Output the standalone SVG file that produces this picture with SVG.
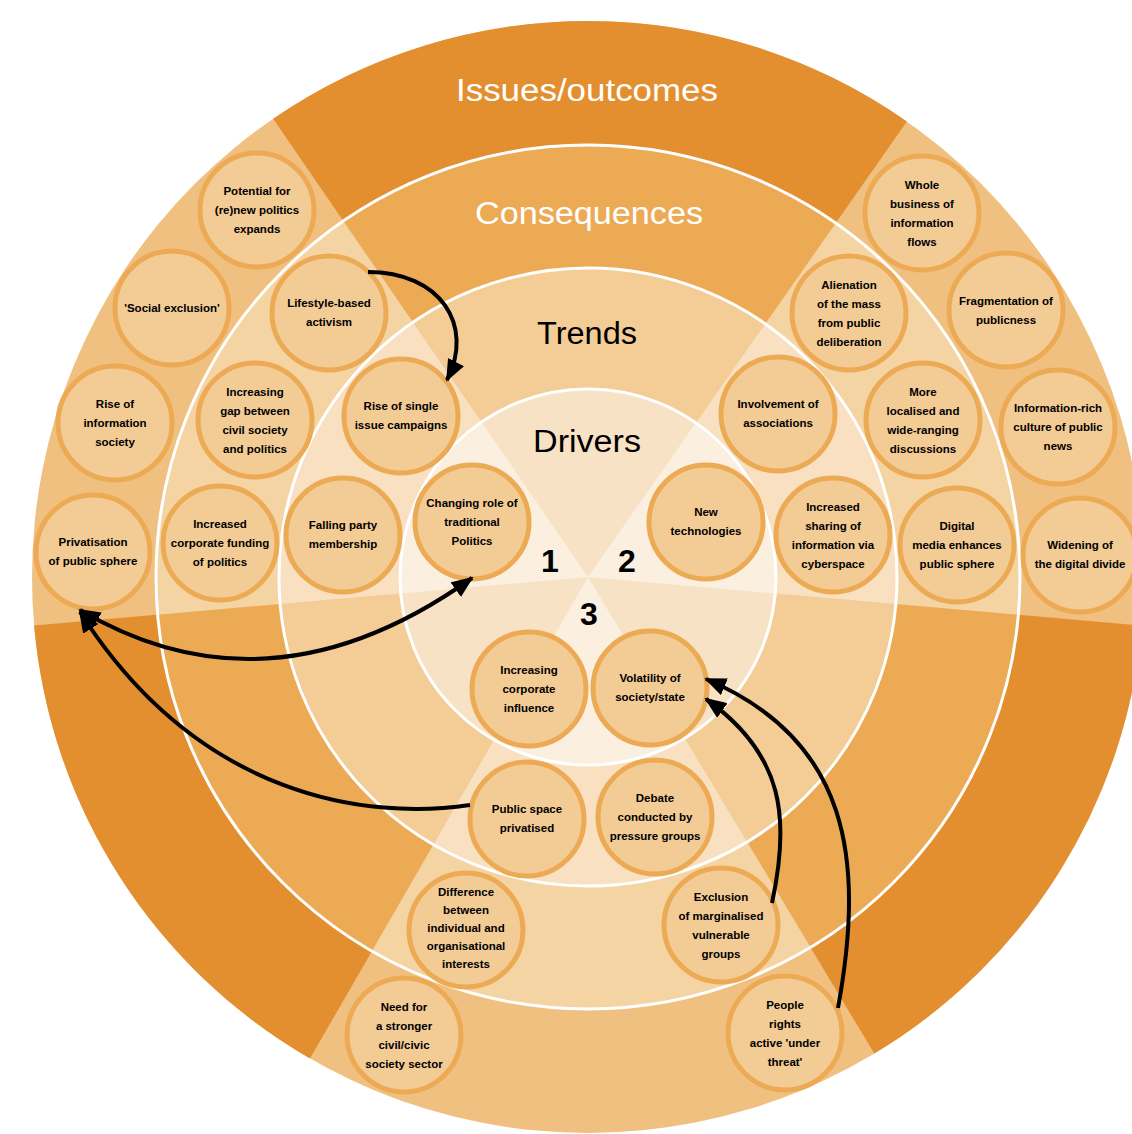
<svg xmlns="http://www.w3.org/2000/svg" width="1132" height="1134" viewBox="0 0 1132 1134">
<defs>
<style>
.node circle{fill:#F2CB95;stroke:#EDAA55;stroke-width:5}
.node text{font-family:"Liberation Sans",Arial,sans-serif;font-size:11.5px;font-weight:bold;fill:#000;text-anchor:middle}
.ring{stroke:#fff;stroke-width:3;fill:none}
.title{font-family:"Liberation Sans",Arial,sans-serif;font-size:31px;text-anchor:middle}
.num{font-family:"Liberation Sans",Arial,sans-serif;font-size:32px;font-weight:bold;text-anchor:middle;fill:#000}
.conn path{fill:none;stroke:#000;stroke-width:4}
</style>
<marker id="ah" viewBox="0 0 22 18" refX="20" refY="9" markerWidth="22" markerHeight="18" markerUnits="userSpaceOnUse" orient="auto-start-reverse"><path d="M0 0 L22 9 L0 18 Z" fill="#000"/></marker>
</defs>
<rect width="1132" height="1134" fill="#fff"/>
<g id="rings">
<circle cx="588" cy="577" r="556" fill="#F0C080"/>
<path fill="#E38F30" d="M588 577 L273.1 118.8 A556 556 0 0 1 906.9 121.5 Z M588 577 L1141.9 625.5 A556 556 0 0 1 874.3 1053.6 Z M588 577 L310 1058.5 A556 556 0 0 1 34.1 625.5 Z"/>
<circle cx="588" cy="577" r="432" fill="#F5D4A3"/>
<path fill="#EDAA55" d="M588 577 L343.3 221 A432 432 0 0 1 835.8 223.1 Z M588 577 L1018.4 614.7 A432 432 0 0 1 810.5 947.3 Z M588 577 L372 951.1 A432 432 0 0 1 157.6 614.7 Z"/>
<circle cx="588" cy="577" r="309" fill="#F8E0C0"/>
<path fill="#F3CC96" d="M588 577 L413 322.4 A309 309 0 0 1 765.2 323.9 Z M588 577 L895.8 603.9 A309 309 0 0 1 747.1 841.9 Z M588 577 L433.5 844.6 A309 309 0 0 1 280.2 603.9 Z"/>
<circle cx="588" cy="577" r="188" fill="#FBEFE0"/>
<path fill="#F8E2C5" d="M588 577 L481.5 422.1 A188 188 0 0 1 695.8 423 Z M588 577 L775.3 593.4 A188 188 0 0 1 684.8 738.2 Z M588 577 L494 739.8 A188 188 0 0 1 400.7 593.4 Z"/>
<circle class="ring" cx="588" cy="577" r="432"/>
<circle class="ring" cx="588" cy="577" r="309"/>
<circle class="ring" cx="588" cy="577" r="188"/>
</g>
<g id="labels">
<text class="title" x="587" y="101" fill="#fff" textLength="262" lengthAdjust="spacingAndGlyphs">Issues/outcomes</text>
<text class="title" x="589" y="224" fill="#fff" textLength="228" lengthAdjust="spacingAndGlyphs">Consequences</text>
<text class="title" x="587" y="344" fill="#000" textLength="100" lengthAdjust="spacingAndGlyphs">Trends</text>
<text class="title" x="587" y="452" fill="#000" textLength="108" lengthAdjust="spacingAndGlyphs">Drivers</text>
<text class="num" x="550" y="572">1</text>
<text class="num" x="627" y="572">2</text>
<text class="num" x="589" y="625">3</text>
</g>
<g id="nodes">
<g id="i1" class="node"><circle cx="257" cy="210" r="57"/><text x="257" y="195"><tspan x="257">Potential for</tspan><tspan x="257" dy="19">(re)new politics</tspan><tspan x="257" dy="19">expands</tspan></text></g>
<g id="i2" class="node"><circle cx="172" cy="308" r="57"/><text x="172" y="312">'Social exclusion'</text></g>
<g id="i3" class="node"><circle cx="115" cy="423" r="57"/><text x="115" y="408"><tspan x="115">Rise of</tspan><tspan x="115" dy="19">information</tspan><tspan x="115" dy="19">society</tspan></text></g>
<g id="i4" class="node"><circle cx="93" cy="552" r="57"/><text x="93" y="546"><tspan x="93">Privatisation</tspan><tspan x="93" dy="19">of public sphere</tspan></text></g>
<g id="i5" class="node"><circle cx="922" cy="213" r="57"/><text x="922" y="189"><tspan x="922">Whole</tspan><tspan x="922" dy="19">business of</tspan><tspan x="922" dy="19">information</tspan><tspan x="922" dy="19">flows</tspan></text></g>
<g id="i6" class="node"><circle cx="1006" cy="310" r="57"/><text x="1006" y="305"><tspan x="1006">Fragmentation of</tspan><tspan x="1006" dy="19">publicness</tspan></text></g>
<g id="i7" class="node"><circle cx="1058" cy="427" r="57"/><text x="1058" y="412"><tspan x="1058">Information-rich</tspan><tspan x="1058" dy="19">culture of public</tspan><tspan x="1058" dy="19">news</tspan></text></g>
<g id="i8" class="node"><circle cx="1080" cy="555" r="57"/><text x="1080" y="549"><tspan x="1080">Widening of</tspan><tspan x="1080" dy="19">the digital divide</tspan></text></g>
<g id="i9" class="node"><circle cx="404" cy="1035" r="57"/><text x="404" y="1011"><tspan x="404">Need for</tspan><tspan x="404" dy="19">a stronger</tspan><tspan x="404" dy="19">civil/civic</tspan><tspan x="404" dy="19">society sector</tspan></text></g>
<g id="i10" class="node"><circle cx="785" cy="1033" r="57"/><text x="785" y="1009"><tspan x="785">People</tspan><tspan x="785" dy="19">rights</tspan><tspan x="785" dy="19">active 'under</tspan><tspan x="785" dy="19">threat'</tspan></text></g>
<g id="c1" class="node"><circle cx="329" cy="313" r="57"/><text x="329" y="307"><tspan x="329">Lifestyle-based</tspan><tspan x="329" dy="19">activism</tspan></text></g>
<g id="c2" class="node"><circle cx="255" cy="420" r="57"/><text x="255" y="396"><tspan x="255">Increasing</tspan><tspan x="255" dy="19">gap between</tspan><tspan x="255" dy="19">civil society</tspan><tspan x="255" dy="19">and politics</tspan></text></g>
<g id="c3" class="node"><circle cx="220" cy="543" r="57"/><text x="220" y="528"><tspan x="220">Increased</tspan><tspan x="220" dy="19">corporate funding</tspan><tspan x="220" dy="19">of politics</tspan></text></g>
<g id="c4" class="node"><circle cx="849" cy="313" r="57"/><text x="849" y="289"><tspan x="849">Alienation</tspan><tspan x="849" dy="19">of the mass</tspan><tspan x="849" dy="19">from public</tspan><tspan x="849" dy="19">deliberation</tspan></text></g>
<g id="c5" class="node"><circle cx="923" cy="420" r="57"/><text x="923" y="396"><tspan x="923">More</tspan><tspan x="923" dy="19">localised and</tspan><tspan x="923" dy="19">wide-ranging</tspan><tspan x="923" dy="19">discussions</tspan></text></g>
<g id="c6" class="node"><circle cx="957" cy="545" r="57"/><text x="957" y="530"><tspan x="957">Digital</tspan><tspan x="957" dy="19">media enhances</tspan><tspan x="957" dy="19">public sphere</tspan></text></g>
<g id="c7" class="node"><circle cx="466" cy="930" r="57"/><text x="466" y="896"><tspan x="466">Difference</tspan><tspan x="466" dy="18">between</tspan><tspan x="466" dy="18">individual and</tspan><tspan x="466" dy="18">organisational</tspan><tspan x="466" dy="18">interests</tspan></text></g>
<g id="c8" class="node"><circle cx="721" cy="925" r="57"/><text x="721" y="901"><tspan x="721">Exclusion</tspan><tspan x="721" dy="19">of marginalised</tspan><tspan x="721" dy="19">vulnerable</tspan><tspan x="721" dy="19">groups</tspan></text></g>
<g id="t1" class="node"><circle cx="401" cy="416" r="57"/><text x="401" y="410"><tspan x="401">Rise of single</tspan><tspan x="401" dy="19">issue campaigns</tspan></text></g>
<g id="t2" class="node"><circle cx="343" cy="535" r="57"/><text x="343" y="529"><tspan x="343">Falling party</tspan><tspan x="343" dy="19">membership</tspan></text></g>
<g id="t3" class="node"><circle cx="778" cy="414" r="57"/><text x="778" y="408"><tspan x="778">Involvement of</tspan><tspan x="778" dy="19">associations</tspan></text></g>
<g id="t4" class="node"><circle cx="833" cy="535" r="57"/><text x="833" y="511"><tspan x="833">Increased</tspan><tspan x="833" dy="19">sharing of</tspan><tspan x="833" dy="19">information via</tspan><tspan x="833" dy="19">cyberspace</tspan></text></g>
<g id="t5" class="node"><circle cx="527" cy="819" r="57"/><text x="527" y="813"><tspan x="527">Public space</tspan><tspan x="527" dy="19">privatised</tspan></text></g>
<g id="t6" class="node"><circle cx="655" cy="817" r="57"/><text x="655" y="802"><tspan x="655">Debate</tspan><tspan x="655" dy="19">conducted by</tspan><tspan x="655" dy="19">pressure groups</tspan></text></g>
<g id="d1" class="node"><circle cx="472" cy="522" r="57"/><text x="472" y="507"><tspan x="472">Changing role of</tspan><tspan x="472" dy="19">traditional</tspan><tspan x="472" dy="19">Politics</tspan></text></g>
<g id="d2" class="node"><circle cx="706" cy="522" r="57"/><text x="706" y="516"><tspan x="706">New</tspan><tspan x="706" dy="19">technologies</tspan></text></g>
<g id="d3" class="node"><circle cx="529" cy="689" r="57"/><text x="529" y="674"><tspan x="529">Increasing</tspan><tspan x="529" dy="19">corporate</tspan><tspan x="529" dy="19">influence</tspan></text></g>
<g id="d4" class="node"><circle cx="650" cy="688" r="57"/><text x="650" y="682"><tspan x="650">Volatility of</tspan><tspan x="650" dy="19">society/state</tspan></text></g>
</g>
<g id="connectors" class="conn">
<path d="M368 272 C440 272 475 325 447 380" marker-end="url(#ah)"/>
<path d="M80 610 Q270 722 472 578" marker-start="url(#ah)" marker-end="url(#ah)"/>
<path d="M470 805 C370 820 200 800 80 612" marker-end="url(#ah)"/>
<path d="M838 1008 C865 860 850 740 706 679" marker-end="url(#ah)"/>
<path d="M772 903 C790 820 785 755 706 699" marker-end="url(#ah)"/>
</g>
</svg>
